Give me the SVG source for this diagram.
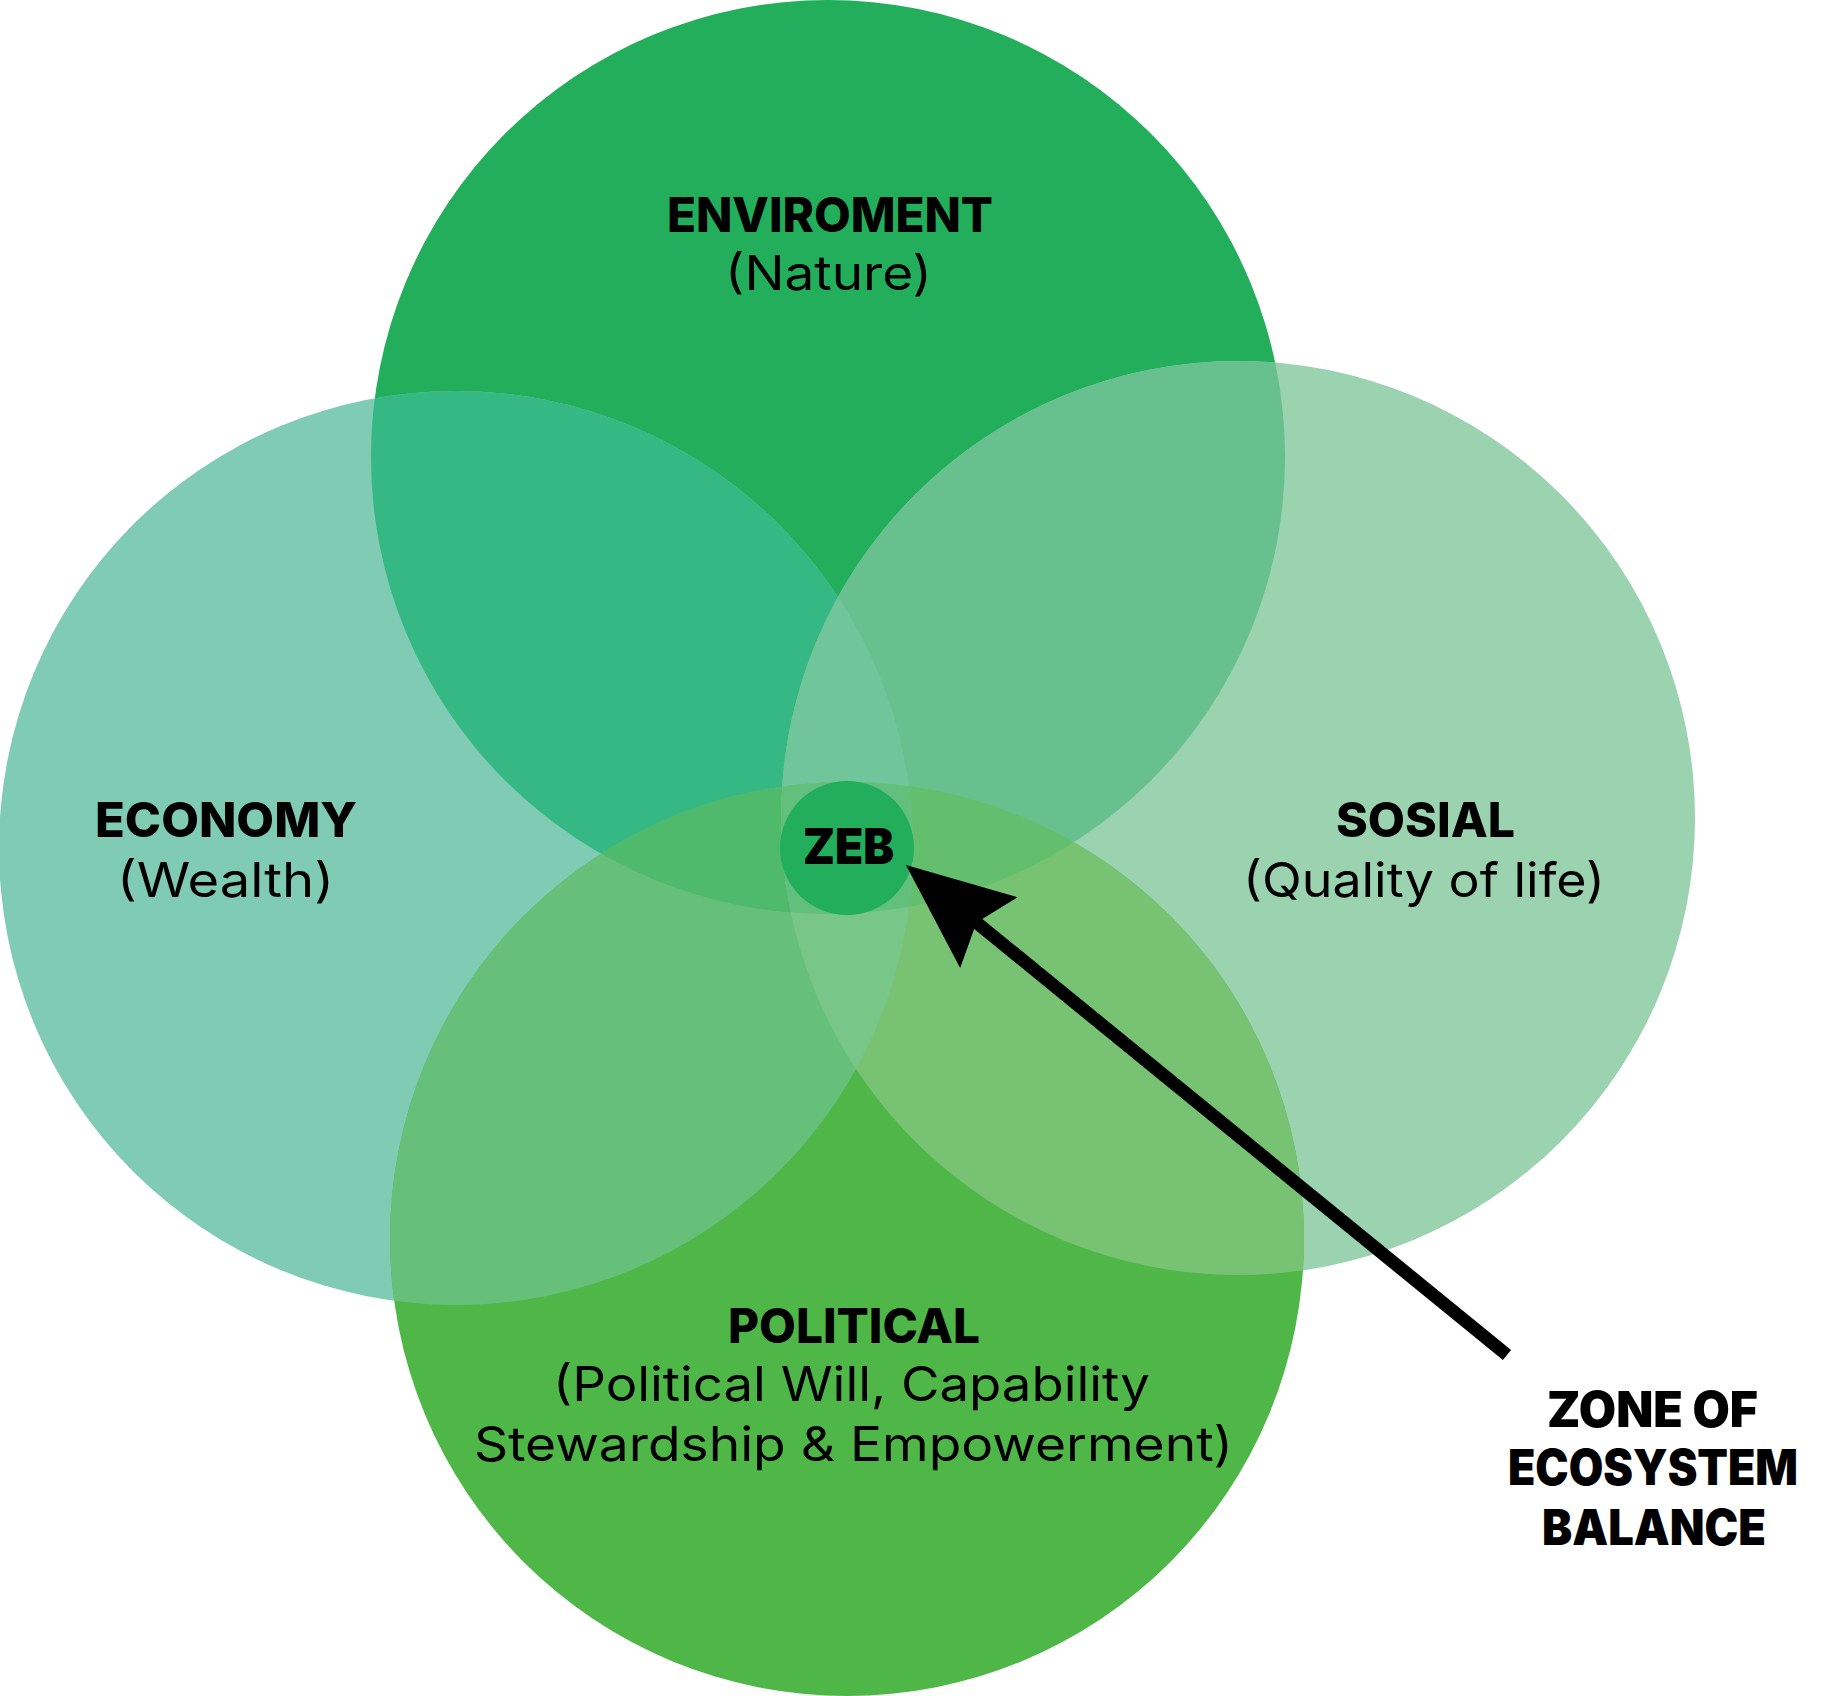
<svg xmlns="http://www.w3.org/2000/svg" width="1827" height="1696" viewBox="0 0 1827 1696">
  <style>
    .t { font-family: "Inter", "Open Sans", "Liberation Sans", sans-serif; fill: #000; }
    .b { font-weight: 800; font-size: 48px; }
    .r { font-weight: 400; font-size: 48px; }
    .k { font-weight: 900; font-size: 49px; }
  </style>
  <defs>
    <clipPath id="cEnv"><circle cx="828" cy="457" r="457"/></clipPath>
    <clipPath id="cEcon"><circle cx="456" cy="848" r="457"/></clipPath>
    <clipPath id="cSos"><circle cx="1238" cy="818" r="457"/></clipPath>
    <clipPath id="cPol"><circle cx="847" cy="1239" r="457"/></clipPath>
    <marker id="head" markerUnits="userSpaceOnUse" orient="auto" refX="-91" refY="0" markerWidth="120" markerHeight="100" overflow="visible">
      <path d="M0,0 L-107,-45.5 L-91,0 L-107,45.5 Z" fill="#000"/>
    </marker>
  </defs>
  <rect width="1827" height="1696" fill="#fff"/>

  <g id="node-enviroment">
    <circle cx="828" cy="457" r="457" fill="#22ae5a"/>
    <text class="t b" x="667" y="232" textLength="326" lengthAdjust="spacingAndGlyphs">ENVIROMENT</text>
    <text class="t r" x="725" y="290" textLength="207" lengthAdjust="spacingAndGlyphs">(Nature)</text>
  </g>
  <g id="node-economy">
    <circle cx="456" cy="848" r="457" fill="#7fcbb4"/>
    <text class="t b" x="95" y="837" textLength="262" lengthAdjust="spacingAndGlyphs">ECONOMY</text>
    <text class="t r" x="117" y="897" textLength="217" lengthAdjust="spacingAndGlyphs">(Wealth)</text>
  </g>
  <g id="node-sosial">
    <circle cx="1238" cy="818" r="457" fill="#9bd2b0"/>
    <text class="t b" x="1336" y="837" textLength="179" lengthAdjust="spacingAndGlyphs">SOSIAL</text>
    <text class="t r" x="1243" y="897" textLength="362" lengthAdjust="spacingAndGlyphs">(Quality of life)</text>
  </g>
  <g id="node-political">
    <circle cx="847" cy="1239" r="457" fill="#4fb648"/>
    <text class="t b" x="728" y="1343" textLength="252" lengthAdjust="spacingAndGlyphs">POLITICAL</text>
    <text class="t r" x="553" y="1401" textLength="597" lengthAdjust="spacingAndGlyphs">(Political Will, Capability</text>
    <text class="t r" x="474" y="1461" textLength="759" lengthAdjust="spacingAndGlyphs">Stewardship &amp; Empowerment)</text>
  </g>

  <g id="overlaps">
    <circle cx="828" cy="457" r="457" fill="#35b884" clip-path="url(#cEcon)"/>
    <circle cx="828" cy="457" r="457" fill="#68c08e" clip-path="url(#cSos)"/>
    <circle cx="828" cy="457" r="457" fill="#5abd6c" clip-path="url(#cPol)"/>
    <circle cx="456" cy="848" r="457" fill="#70c69a" clip-path="url(#cSos)"/>
    <circle cx="456" cy="848" r="457" fill="#67c07a" clip-path="url(#cPol)"/>
    <circle cx="1238" cy="818" r="457" fill="#77c373" clip-path="url(#cPol)"/>
    <g clip-path="url(#cSos)"><circle cx="456" cy="848" r="457" fill="#70c69a" clip-path="url(#cEnv)"/></g>
    <g clip-path="url(#cPol)"><circle cx="456" cy="848" r="457" fill="#4fb96c" clip-path="url(#cEnv)"/></g>
    <g clip-path="url(#cPol)"><circle cx="1238" cy="818" r="457" fill="#63bf6e" clip-path="url(#cEnv)"/></g>
    <g clip-path="url(#cPol)"><circle cx="1238" cy="818" r="457" fill="#79c689" clip-path="url(#cEcon)"/></g>
    <g clip-path="url(#cPol)"><g clip-path="url(#cSos)"><circle cx="456" cy="848" r="457" fill="#62c07c" clip-path="url(#cEnv)"/></g></g>
  </g>

  <g id="node-zeb">
    <circle cx="847" cy="848" r="67" fill="#22ae5a"/>
    <text class="t k" x="803" y="864" font-size="47" textLength="91" lengthAdjust="spacingAndGlyphs">ZEB</text>
  </g>

  <g id="connectors">
    <line x1="1507" y1="1355" x2="976.5" y2="922.5" stroke="#000" stroke-width="13" marker-end="url(#head)"/>
  </g>

  <g id="label-zone">
    <text class="t k" x="1547" y="1427" textLength="211" lengthAdjust="spacingAndGlyphs">ZONE OF</text>
    <text class="t k" x="1508" y="1485" textLength="290" lengthAdjust="spacingAndGlyphs">ECOSYSTEM</text>
    <text class="t k" x="1542" y="1545" textLength="224" lengthAdjust="spacingAndGlyphs">BALANCE</text>
  </g>
</svg>
